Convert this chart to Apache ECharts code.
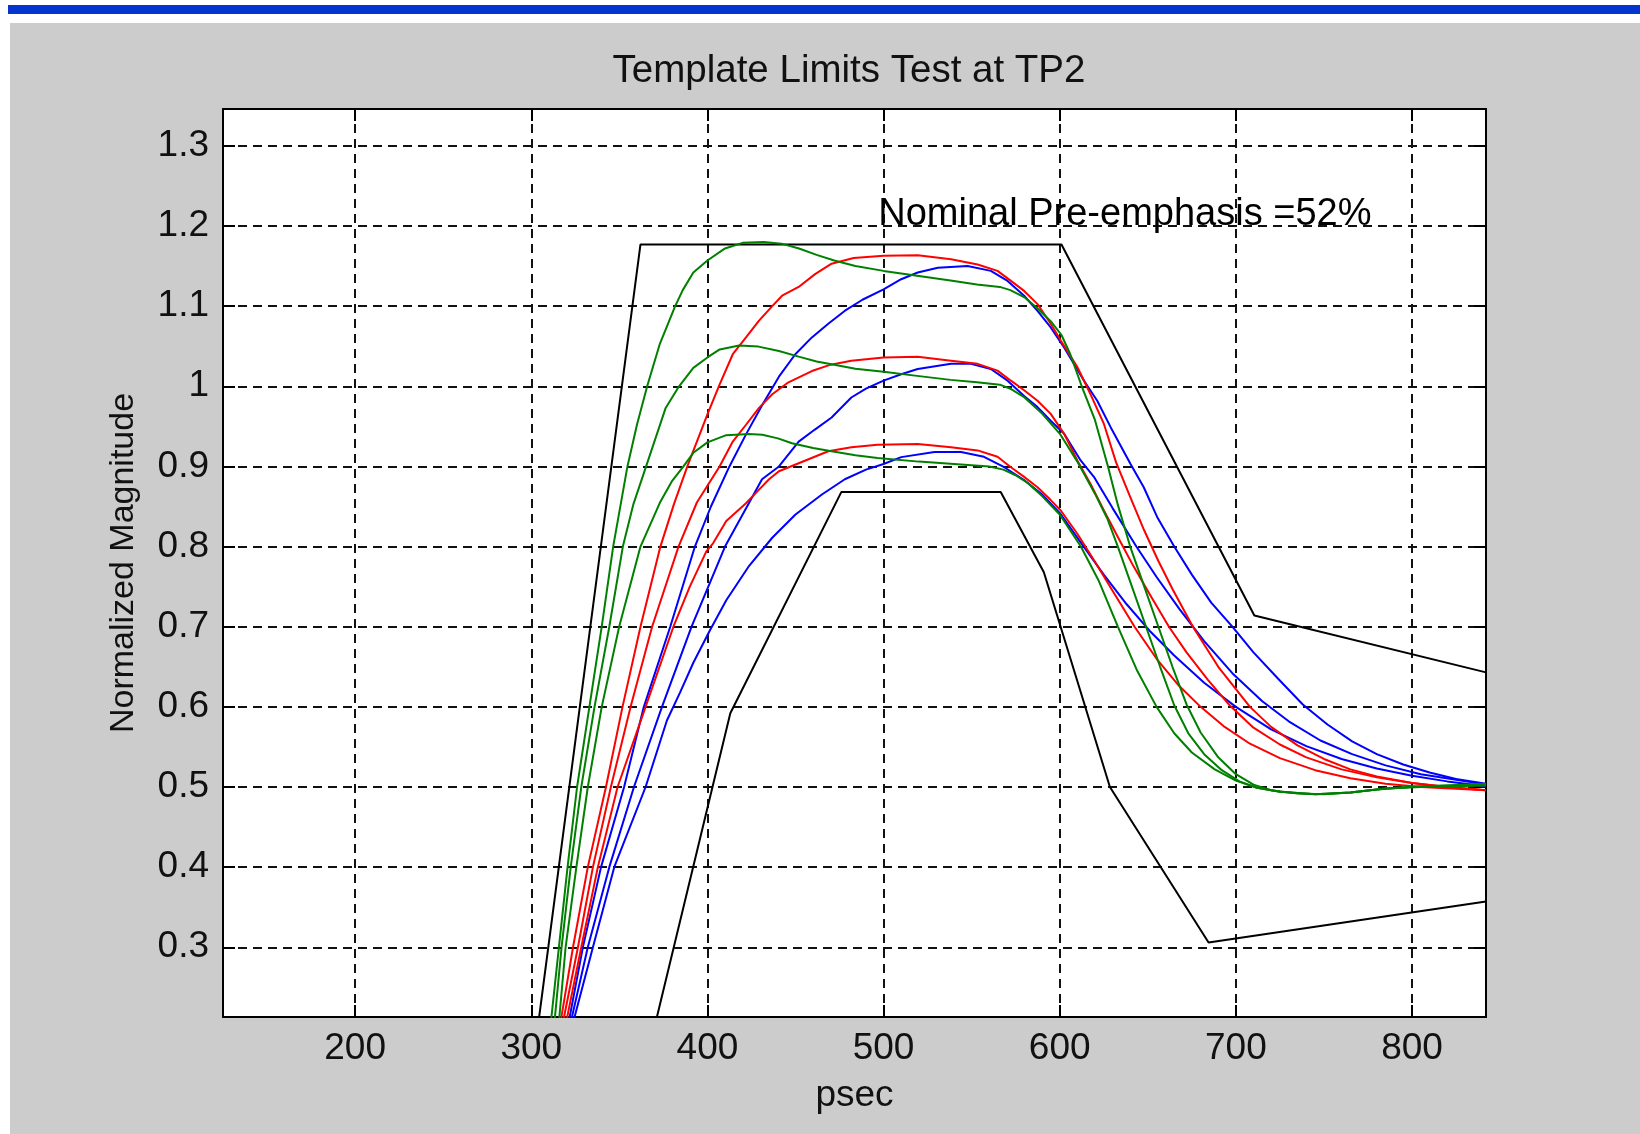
<!DOCTYPE html>
<html><head><meta charset="utf-8">
<script src="https://cdn.jsdelivr.net/npm/echarts@6/dist/echarts.min.js"></script>
<style>html,body{margin:0;padding:0;background:#fff;}#c{width:1640px;height:1134px;}</style>
</head><body><div id="c"></div>
<script>
// ---------- data ----------
const titleText = 'Template Limits Test at TP2';
const xLabel = 'psec';
const yLabel = 'Normalized Magnitude';
const noteText = 'Nominal Pre-emphasis =52%';
const notePos = [497, 1.214];
const xRange = [125, 842];
const yRange = [0.213, 1.346];
const xTicks = [200, 300, 400, 500, 600, 700, 800];
const yTicks = [0.3, 0.4, 0.5, 0.6, 0.7, 0.8, 0.9, 1, 1.1, 1.2, 1.3];

const maskUpper = [[302.5,0.18],[362,1.177],[601,1.177],[710.5,0.714],[842,0.643]];
const maskLower = [[367.7,0.18],[413,0.592],[476,0.868],[566.5,0.868],[591,0.768],[628.5,0.5],[684.5,0.306],[842,0.357]];

const greenHigh = [[308,0.15],[311.5,0.214],[315.7,0.3],[320.6,0.4],[326,0.5],[333,0.6],[340,0.7],[346.5,0.8],[354.6,0.9],[360,0.952],[365.8,1.0],[373,1.053],[381.7,1.1],[386,1.12],[392,1.142],[400,1.157],[410,1.172],[420,1.179],[432,1.18],[442,1.178],[452,1.172],[462,1.164],[472,1.157],[484,1.15],[500,1.144],[519,1.138],[538,1.132],[553,1.127],[566,1.124],[572,1.12],[580,1.111],[587,1.098],[595,1.081],[601,1.064],[606,1.04],[612.5,1.0],[620,0.958],[627.4,0.9],[633,0.852],[640,0.8],[648,0.75],[656,0.7],[664,0.65],[672,0.603],[680,0.568],[690,0.537],[700,0.516],[710,0.503],[720,0.496],[735,0.492],[750,0.491],[765,0.493],[780,0.497],[800,0.5],[820,0.502],[842,0.504]];
const greenMid = [[311,0.15],[313.5,0.214],[317.2,0.3],[322.4,0.4],[328.4,0.5],[335.9,0.6],[344.3,0.7],[352,0.8],[358,0.853],[365.2,0.9],[376.3,0.973],[383.9,1.0],[392,1.023],[400,1.036],[407,1.046],[418,1.051],[429,1.0495],[440.6,1.044],[451.8,1.037],[462,1.031],[472,1.027],[484,1.022],[500,1.018],[519,1.013],[538,1.008],[553,1.005],[566,1.002],[572,0.997],[580,0.986],[590,0.966],[600,0.941],[610,0.906],[620,0.866],[627,0.835],[633,0.8],[641,0.75],[649,0.7],[657,0.65],[665,0.602],[673,0.567],[682,0.541],[692,0.521],[702,0.507],[712,0.499],[725,0.494],[745,0.491],[765,0.493],[785,0.498],[805,0.501],[842,0.503]];
const greenLow = [[313,0.15],[316,0.214],[319.5,0.3],[325.6,0.4],[332.1,0.5],[340,0.6],[349.9,0.7],[362,0.8],[373.3,0.856],[380,0.882],[386.4,0.9],[392,0.917],[400,0.93],[410.7,0.939],[423.7,0.9405],[431.2,0.9395],[440,0.935],[448,0.929],[460,0.923],[470.5,0.919],[484,0.914],[496.6,0.9105],[520,0.906],[540,0.903],[560,0.9],[568,0.896],[575,0.889],[582,0.879],[590,0.863],[600,0.84],[612,0.8],[622,0.758],[633,0.7],[644,0.645],[655,0.6],[665,0.567],[675,0.543],[688,0.522],[700,0.508],[712,0.499],[725,0.494],[745,0.491],[765,0.493],[785,0.498],[805,0.5],[842,0.502]];

const redHigh = [[314,0.15],[317.2,0.214],[323.7,0.3],[332.1,0.4],[342.4,0.5],[351.8,0.6],[362,0.7],[373.3,0.8],[381,0.853],[388.6,0.9],[400,0.965],[406.9,1.002],[414.4,1.04],[421.9,1.061],[429.3,1.082],[436.8,1.1],[442.4,1.113],[451.8,1.124],[461.1,1.14],[470.5,1.153],[483,1.16],[500,1.163],[519.4,1.1635],[538.3,1.1585],[553.4,1.152],[564.7,1.144],[572.3,1.1315],[579.8,1.119],[587.4,1.1025],[594.9,1.078],[600.6,1.057],[610,1.024],[617.5,0.99],[625.1,0.953],[632,0.905],[640,0.862],[648,0.82],[656,0.782],[664,0.747],[675.6,0.7],[690,0.65],[708,0.6],[720,0.575],[735,0.552],[750,0.535],[765,0.522],[780,0.513],[800,0.505],[820,0.5],[842,0.496]];
const redMid = [[316,0.15],[318.7,0.214],[326.5,0.3],[335,0.4],[345.2,0.5],[356.4,0.6],[368.6,0.7],[383.6,0.8],[394,0.855],[406.9,0.9],[414.4,0.931],[421.9,0.952],[429.3,0.973],[436.8,0.99],[446,1.005],[459.3,1.019],[470,1.027],[481.7,1.032],[500,1.036],[519.4,1.037],[538.3,1.032],[553.4,1.028],[564.7,1.0195],[572.3,1.007],[579.8,0.995],[587.4,0.982],[594.9,0.9656],[602.5,0.9407],[610,0.9075],[617.5,0.878],[625.1,0.845],[633,0.812],[642,0.775],[652,0.737],[662,0.7],[672,0.668],[684,0.634],[696,0.603],[710,0.574],[725,0.553],[740,0.537],[760,0.522],[780,0.512],[800,0.505],[820,0.5],[842,0.496]];
const redLow = [[318,0.15],[320.5,0.214],[328.4,0.3],[337.8,0.4],[349,0.5],[364.9,0.6],[380.7,0.7],[390,0.75],[399.4,0.794],[403.2,0.804],[410.7,0.832],[421.9,0.854],[429.3,0.871],[435,0.884],[440.6,0.894],[451.8,0.904],[468.6,0.919],[481.7,0.924],[496.6,0.927],[519.4,0.928],[538.3,0.924],[553.4,0.92],[564.7,0.912],[572.3,0.899],[579.8,0.887],[587.4,0.874],[594.9,0.858],[600.6,0.845],[610,0.816],[620,0.781],[630,0.745],[642.5,0.7],[655,0.66],[667,0.628],[680,0.6],[693,0.576],[708,0.554],[725,0.536],[745,0.521],[765,0.511],[785,0.504],[805,0.5],[842,0.496]];

const blueHigh = [[318,0.15],[321.9,0.214],[329.3,0.3],[339.6,0.4],[352.7,0.5],[363.9,0.6],[378.9,0.7],[392.9,0.8],[402,0.85],[412.5,0.9],[421.9,0.94],[431.2,0.977],[440.6,1.012],[449.9,1.04],[459.3,1.061],[468.6,1.078],[477.9,1.094],[488,1.108],[500,1.121],[510,1.1336],[519.4,1.142],[530.8,1.148],[547.7,1.15],[560.9,1.144],[570.4,1.1315],[579.8,1.113],[587.4,1.094],[594.9,1.0734],[602.5,1.0485],[613.8,1.007],[621.3,0.982],[628.9,0.949],[640.2,0.903],[647.7,0.874],[655.3,0.837],[665,0.8],[675,0.765],[686,0.73],[698,0.7],[710,0.668],[724,0.635],[738,0.603],[752,0.578],[766,0.557],[780,0.541],[795,0.528],[810,0.518],[825,0.51],[842,0.504]];
const blueMid = [[320,0.15],[323.2,0.214],[332.1,0.3],[344.3,0.4],[358.3,0.5],[374.2,0.6],[391,0.7],[410,0.8],[425,0.86],[431,0.884],[440.6,0.9],[451.8,0.931],[461,0.946],[470.5,0.961],[481.7,0.986],[490,0.997],[500,1.007],[510,1.015],[519.4,1.0216],[538.3,1.028],[549.6,1.028],[560.9,1.0216],[570.4,1.007],[579.8,0.988],[587.4,0.974],[594.9,0.957],[602.5,0.9407],[611.9,0.9075],[619.4,0.887],[630,0.848],[643.5,0.8],[655,0.762],[668,0.722],[682,0.682],[698,0.642],[715,0.607],[730,0.582],[748,0.558],[766,0.541],[785,0.527],[805,0.516],[825,0.509],[842,0.503]];
const blueLow = [[322,0.15],[324.7,0.214],[335,0.3],[347.1,0.4],[364.9,0.5],[377,0.583],[384.5,0.618],[392,0.655],[401.3,0.695],[410.7,0.733],[423.7,0.776],[436.8,0.811],[450,0.84],[465,0.865],[478,0.884],[490,0.896],[500,0.903],[510,0.9116],[528.9,0.918],[544,0.918],[557,0.912],[568.5,0.899],[579.8,0.883],[590,0.865],[600,0.842],[612,0.805],[625,0.765],[638,0.728],[651,0.695],[665,0.664],[682,0.63],[700,0.6],[720,0.572],[740,0.551],[760,0.535],[780,0.523],[800,0.514],[820,0.507],[842,0.501]];

// ---------- chart ----------
const FONT = '"Liberation Sans", Arial, Helvetica, sans-serif';
const TXT = '#111111';
const GRID = {left: 223, top: 109, width: 1263, height: 908};
const chart = echarts.init(document.getElementById('c'), null, {renderer: 'canvas', width: 1640, height: 1134});

function lineSeries(name, data, color, z) {
  return {type: 'line', name: name, data: data, symbol: 'none', showSymbol: false,
    lineStyle: {color: color, width: 2, opacity: 1}, itemStyle: {color: color},
    smooth: false, clip: true, silent: true, animation: false, z: z,
    emphasis: {disabled: true}};
}
const tickStyle = {color: '#000', width: 2};
const gridLineStyle = {color: '#111', width: 2, type: [9, 6]};

chart.setOption({
  animation: false,
  backgroundColor: '#ffffff',
  graphic: [
    {type: 'rect', z: -10, silent: true, shape: {x: 8, y: 5, width: 1632, height: 9}, style: {fill: '#0535cf'}},
    {type: 'rect', z: -10, silent: true, shape: {x: 10, y: 23, width: 1630, height: 1111}, style: {fill: '#cccccc'}},
    {type: 'text', z: 10, silent: true, x: 849, y: 71, style: {text: titleText, font: '38.5px ' + FONT, fill: TXT, textAlign: 'center', textVerticalAlign: 'middle'}}
  ],
  grid: {left: GRID.left, top: GRID.top, width: GRID.width, height: GRID.height, containLabel: false,
    show: true, backgroundColor: '#ffffff', borderColor: '#000', borderWidth: 2},
  xAxis: [
    {type: 'value', min: xRange[0], max: xRange[1], position: 'bottom',
      axisLine: {show: true, onZero: false, lineStyle: tickStyle},
      axisTick: {show: true, inside: true, length: 12, customValues: xTicks, lineStyle: tickStyle},
      axisLabel: {show: true, customValues: xTicks, margin: 13, fontSize: 37, fontFamily: FONT, color: TXT},
      splitLine: {show: true, lineStyle: gridLineStyle},
      name: xLabel, nameLocation: 'middle', nameGap: 60,
      nameTextStyle: {fontSize: 37, fontFamily: FONT, color: TXT}},
    {type: 'value', min: xRange[0], max: xRange[1], position: 'top',
      axisLine: {show: true, onZero: false, lineStyle: tickStyle},
      axisTick: {show: true, inside: true, length: 12, customValues: xTicks, lineStyle: tickStyle},
      axisLabel: {show: false}, splitLine: {show: false}}
  ],
  yAxis: [
    {type: 'value', min: yRange[0], max: yRange[1], position: 'left',
      axisLine: {show: true, onZero: false, lineStyle: tickStyle},
      axisTick: {show: true, inside: true, length: 12, customValues: yTicks, lineStyle: tickStyle},
      axisLabel: {show: true, customValues: yTicks, margin: 14, fontSize: 37, fontFamily: FONT, color: TXT},
      splitLine: {show: true, lineStyle: gridLineStyle},
      name: yLabel, nameLocation: 'middle', nameRotate: 90, nameGap: 82,
      nameTextStyle: {fontSize: 34, fontFamily: FONT, color: TXT}},
    {type: 'value', min: yRange[0], max: yRange[1], position: 'right',
      axisLine: {show: true, onZero: false, lineStyle: tickStyle},
      axisTick: {show: true, inside: true, length: 12, customValues: yTicks, lineStyle: tickStyle},
      axisLabel: {show: false}, splitLine: {show: false}}
  ],
  series: [
    lineSeries('mask upper', maskUpper, '#000000', 2),
    lineSeries('mask lower', maskLower, '#000000', 2),
    lineSeries('blue high', blueHigh, '#0000ff', 3),
    lineSeries('blue mid', blueMid, '#0000ff', 3),
    lineSeries('blue low', blueLow, '#0000ff', 3),
    lineSeries('red high', redHigh, '#ff0000', 3),
    lineSeries('red mid', redMid, '#ff0000', 3),
    lineSeries('red low', redLow, '#ff0000', 3),
    lineSeries('green high', greenHigh, '#008000', 3),
    lineSeries('green mid', greenMid, '#008000', 3),
    lineSeries('green low', greenLow, '#008000', 3),
    {type: 'scatter', name: 'note', data: [notePos], symbolSize: 0, silent: true, z: 5,
      itemStyle: {opacity: 1}, emphasis: {disabled: true},
      label: {show: true, position: 'right', distance: 0, formatter: noteText, opacity: 1,
        fontSize: 38, fontFamily: FONT, color: '#000000', verticalAlign: 'middle'}}
  ]
});
</script>
</body></html>
